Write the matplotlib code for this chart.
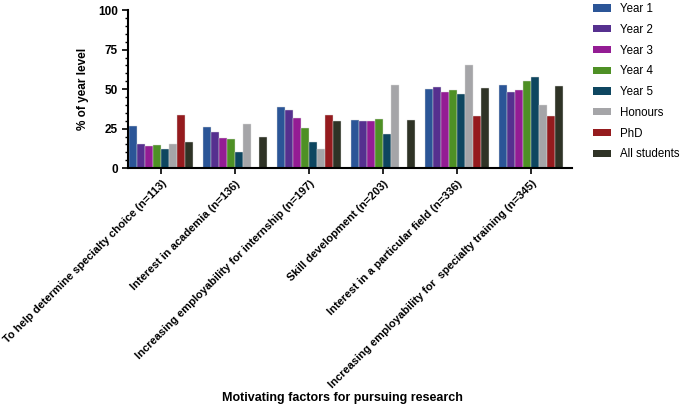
import matplotlib
matplotlib.use("Agg")
import matplotlib.pyplot as plt
import numpy as np
from matplotlib.patches import Patch
from matplotlib.ticker import MultipleLocator

plt.rcParams['font.family'] = ['Liberation Sans', 'DejaVu Sans']

categories = [
    "To help determine specialty choice (n=113)",
    "Interest in academia (n=136)",
    "Increasing employability for internship (n=197)",
    "Skill development (n=203)",
    "Interest in a particular field (n=336)",
    "Increasing employability for  specialty training (n=345)",
]
series_names = ["Year 1", "Year 2", "Year 3", "Year 4", "Year 5", "Honours", "PhD", "All students"]
year1 = [26.7, 25.9, 38.5, 30.7, 50.1, 52.4]
year2 = [15.1, 23.1, 36.6, 30.0, 51.3, 48.4]
year3 = [14.3, 19.1, 31.7, 30.0, 47.9, 49.7]
year4 = [14.5, 18.5, 25.4, 31.4, 49.4, 54.9]
year5 = [12.4, 10.5, 16.4, 21.7, 47.1, 57.9]
honours = [15.5, 27.9, 12.2, 52.8, 65.4, 40.2]
phd = [33.4, 0, 33.4, 0, 32.8, 32.8]
all_students = [16.8, 19.9, 29.8, 30.7, 50.7, 51.7]
series = [year1, year2, year3, year4, year5, honours, phd, all_students]
colors = ["#2B5597", "#56308F", "#941C94", "#4E9025", "#0E4660", "#A5A5A8", "#951B1E", "#2F3326"]

fig = plt.figure(figsize=(6.85, 4.07), dpi=100)
ax = fig.add_axes([0.187, 0.587, 0.648, 0.388])

x = np.arange(len(categories))
w = 0.108
for i, (vals, c) in enumerate(zip(series, colors)):
    ax.bar(x + (i - 3.5) * w, vals, width=w, color=c, edgecolor='#dcdcdc', linewidth=0.3)

ax.set_ylim(0, 100)
ax.set_xlim(-0.45, 5.55)
ax.yaxis.set_major_locator(MultipleLocator(25))
ax.yaxis.set_minor_locator(MultipleLocator(5))
ax.set_xticks(x)
ax.set_xticklabels(categories, rotation=45, ha='right', rotation_mode='anchor',
                   fontsize=8, fontweight='bold')
for lab in ax.get_yticklabels():
    lab.set_fontweight('bold')
ax.tick_params(axis='y', labelsize=8.5, width=1.2, length=4, direction='out')
ax.tick_params(axis='y', which='minor', width=1, length=2.5)
ax.tick_params(axis='x', width=1.2, length=4, direction='out')
for s in ['top', 'right']:
    ax.spines[s].set_visible(False)
for s in ['left', 'bottom']:
    ax.spines[s].set_linewidth(1.5)

ax.set_ylabel("% of year level", fontsize=8.5, fontweight='bold', labelpad=6)
fig.text(0.5, 0.022, "Motivating factors for pursuing research", ha='center', va='center',
         fontsize=9, fontweight='bold')

handles = [Patch(facecolor=c, edgecolor='none') for c in colors]
fig.legend(handles, series_names, loc='upper left', bbox_to_anchor=(0.85, 1.018),
           frameon=False, fontsize=8.3, handlelength=1.6, handleheight=0.6,
           labelspacing=0.76, handletextpad=0.75)

fig.savefig("out.png", dpi=100)
